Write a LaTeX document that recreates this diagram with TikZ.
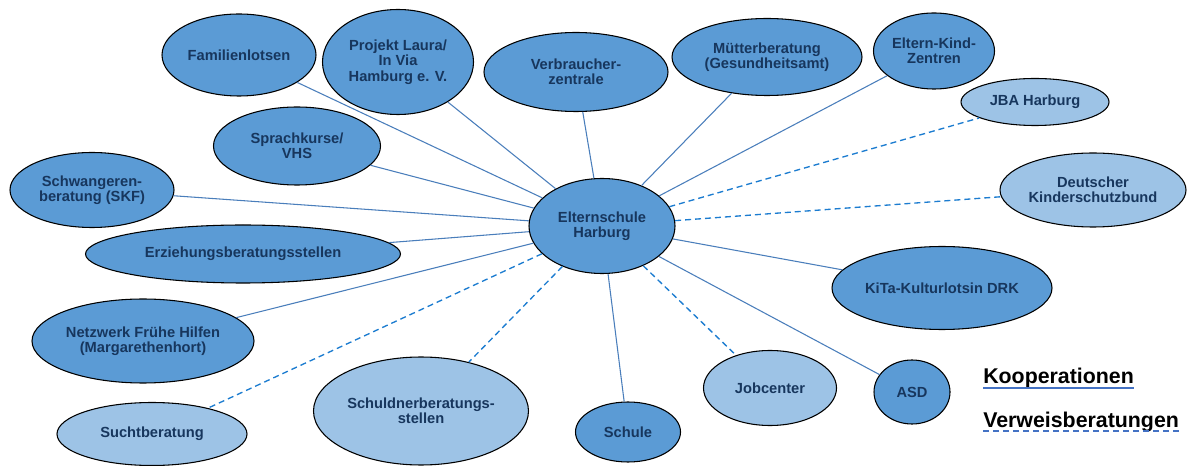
\documentclass[tikz,border=0pt]{standalone}
\usepackage{fontspec}
\setmainfont{Liberation Sans}
\usetikzlibrary{shapes.geometric}
\definecolor{darkblob}{HTML}{5B9BD5}
\definecolor{lightblob}{HTML}{9DC3E6}
\definecolor{navytext}{HTML}{17365D}
\definecolor{koopblue}{HTML}{4A7EBB}
\definecolor{verweisblue}{HTML}{1C7CD0}
\definecolor{legendblue}{HTML}{4472C4}
\begin{document}
\begin{tikzpicture}[x=0.75pt, y=-0.75pt,
    partner/.style={ellipse, draw=black, line width=0.8pt, fill=darkblob, text=navytext,
      font=\fontsize{11}{11.5}\selectfont\bfseries, align=center, inner sep=0pt},
    verweis/.style={partner, fill=lightblob},
    dims/.style 2 args={minimum width=#1pt, minimum height=#2pt},
    koopline/.style={draw=koopblue, line width=0.8pt},
    verweisline/.style={draw=verweisblue, line width=1pt, dash pattern=on 4.5pt off 3pt},
    legend/.style={font=\fontsize{16}{18}\selectfont\bfseries, inner sep=0pt, anchor=base west}]
    \useasboundingbox (0,0) rectangle (1192,466);

    % Center
    \node[partner, dims={109.5}{71.25}] (schule) at (602,226) {Elternschule\\Harburg};

    % Kooperationen
    \node[partner, dims={115.5}{61.5}] (lotsen) at (239,55) {Familienlotsen};
    \node[partner, dims={113.25}{78.75}] (laura) at (398,62) {Projekt Laura/\\In Via\\Hamburg e. V.};
    \node[partner, dims={138}{59.25}] (verbraucher) at (576,72) {Verbraucher-\\zentrale};
    \node[partner, dims={125.25}{58.5}] (sprache) at (297,146) {Sprachkurse/\\VHS};
    \node[partner, dims={142.5}{57.75}] (muetter) at (767,57) {Mütterberatung\\(Gesundheitsamt)};
    \node[partner, dims={90.75}{57}] (ekiz) at (934,51) {Eltern-Kind-\\Zentren};
    \node[partner, dims={165}{62.25}] (kita) at (942,288) {KiTa-Kulturlotsin DRK};
    \node[partner, dims={57}{48}] (asd) at (912,392) {ASD};
    \node[partner, dims={78.75}{45}] (schul) at (628,432) {Schule};
    \node[partner, dims={166.5}{63}] (netzwerk) at (143,341) {Netzwerk Frühe Hilfen\\(Margarethenhort)};
    \node[partner, dims={236.25}{43.5}] (erziehung) at (243,254) {Erziehungsberatungsstellen};
    \node[partner, dims={123}{56.25}] (schwanger) at (92,190) {Schwangeren-\\beratung (SKF)};

    % Verweisberatungen
    \node[verweis, dims={111}{35.25}] (jba) at (1035,102) {JBA Harburg};
    \node[verweis, dims={139.5}{55.5}] (dksb) at (1093,190) {Deutscher\\Kinderschutzbund};
    \node[verweis, dims={99.75}{56.25}] (job) at (770,388) {Jobcenter};
    \node[verweis, dims={161.25}{81}] (schuldner) at (421,411) {Schuldnerberatungs-\\stellen};
    \node[verweis, dims={142.5}{47.25}] (sucht) at (152,434) {Suchtberatung};

    % Connectors
    \foreach \n in {lotsen, laura, verbraucher, sprache, muetter, ekiz, kita, asd, schul, netzwerk, erziehung, schwanger}
        \draw[koopline] (schule) -- (\n);
    \foreach \n in {jba, dksb, job, schuldner, sucht}
        \draw[verweisline] (schule) -- (\n);

    % Legend
    \node[legend] (koop) at (983,383) {Kooperationen};
    \node[legend] (verw) at (983,427) {Verweisberatungen};
    \draw[draw=legendblue, line width=1.6pt] ([yshift=-4pt]koop.base west) -- ([yshift=-4pt]koop.base east);
    \draw[draw=legendblue, line width=1.6pt, dash pattern=on 4.5pt off 3pt] ([yshift=-3pt]verw.base west) -- ([yshift=-3pt]verw.base east);
\end{tikzpicture}
\end{document}
